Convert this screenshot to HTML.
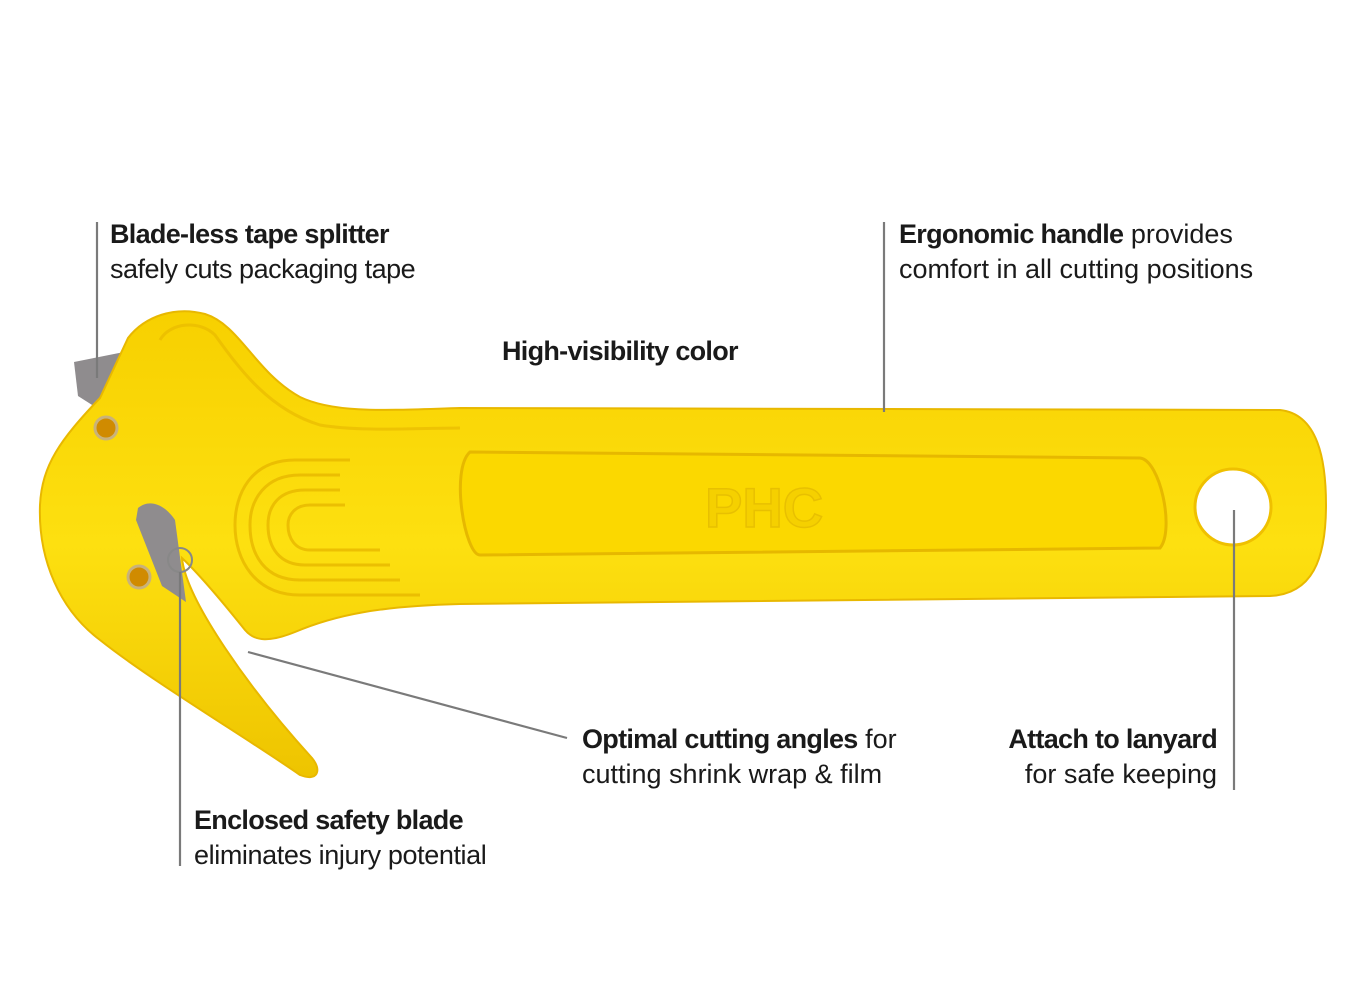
<!DOCTYPE html>
<html><head><meta charset="utf-8"><style>
html,body{margin:0;padding:0;background:#fff;}
.w{position:relative;width:1366px;height:1000px;overflow:hidden;font-family:"Liberation Sans",sans-serif;color:#1a1a1a;}
.t{position:absolute;font-size:27px;line-height:35px;white-space:nowrap;}
b{font-weight:bold;letter-spacing:-0.7px;}
</style></head><body><div class="w">
<svg width="1366" height="1000" style="position:absolute;left:0;top:0">
<defs>
<linearGradient id="g" x1="0" y1="0" x2="0" y2="1">
<stop offset="0" stop-color="#f7d000"/><stop offset="0.5" stop-color="#fde010"/><stop offset="1" stop-color="#eec400"/>
</linearGradient>
</defs>
<path d="M74,362 L124,352 L100,410 L78,396 Z" fill="#8f8c8e"/>
<path d="M128,338 C145,316 175,306 205,314 C240,325 255,372 300,397 C335,414 390,410 460,408 L1280,410 C1318,414 1326,460 1326,505 C1326,560 1312,594 1270,596 L460,604 C380,606 335,615 295,632 C270,642 255,642 245,630 C225,605 200,575 182,558 C186,600 250,690 312,758 C322,770 318,782 300,775 C250,740 150,680 100,640 C60,610 38,560 40,505 C42,465 60,440 100,398 Z" fill="url(#g)" stroke="#e8b800" stroke-width="2"/>
<path d="M138,508 C150,498 165,505 175,520 L186,602 L162,586 L136,520 Z" fill="#8f8c8e"/>
<path d="M160,340 C170,322 200,320 215,335 C240,370 270,410 320,425 C360,432 420,428 460,428" fill="none" stroke="#e6b600" stroke-width="3" opacity="0.6"/>
<path d="M470,452 L1140,458 C1160,460 1175,530 1160,548 L480,555 C465,555 450,470 470,452 Z" fill="#fbd800" stroke="#e6b800" stroke-width="3"/>
<text x="705" y="527" font-family="Liberation Sans" font-weight="bold" font-size="56" fill="#f5d000" stroke="#e8c000" stroke-width="1.5">PHC</text>
<g fill="none" stroke="#e8b800" stroke-width="3" opacity="0.8">
<path d="M340,475 L300,475 C265,475 250,500 250,525 C250,555 265,580 300,580 L400,580"/>
<path d="M340,490 L305,490 C280,490 268,505 268,525 C268,548 280,565 305,565 L390,565"/>
<path d="M345,505 L310,505 C295,505 288,515 288,525 C288,538 295,550 310,550 L380,550"/>
<path d="M350,460 L295,460 C250,460 235,495 235,525 C235,560 255,595 300,595 L420,595"/>
</g>
<circle cx="106" cy="428" r="11" fill="#d08b00" stroke="#c9b27a" stroke-width="3"/>
<circle cx="139" cy="577" r="11" fill="#d08b00" stroke="#c9b27a" stroke-width="3"/>
<circle cx="180" cy="560" r="12" fill="none" stroke="#888" stroke-width="2"/>
<circle cx="1233" cy="507" r="38" fill="#fff" stroke="#efc000" stroke-width="3"/>
<g stroke="#7a7a7a" stroke-width="2.2">
<line x1="97" y1="222" x2="97" y2="378"/>
<line x1="884" y1="222" x2="884" y2="412"/>
<line x1="180" y1="572" x2="180" y2="866"/>
<line x1="248" y1="652" x2="567" y2="738"/>
<line x1="1234" y1="510" x2="1234" y2="790"/>
</g>
</svg>
<div class="t" style="left:110px;top:217px"><b>Blade-less tape splitter</b><br><span style="letter-spacing:-0.5px">safely cuts packaging tape</span></div>
<div class="t" style="left:899px;top:217px"><b>Ergonomic handle</b> provides<br>comfort in all cutting positions</div>
<div class="t" style="left:502px;top:334px"><b>High-visibility color</b></div>
<div class="t" style="left:582px;top:722px"><b>Optimal cutting angles</b> for<br>cutting shrink wrap &amp; film</div>
<div class="t" style="right:149px;top:722px;text-align:right"><b>Attach to lanyard</b><br>for safe keeping</div>
<div class="t" style="left:194px;top:803px"><b>Enclosed safety blade</b><br><span style="letter-spacing:-0.4px">eliminates injury potential</span></div>
</div></body></html>
